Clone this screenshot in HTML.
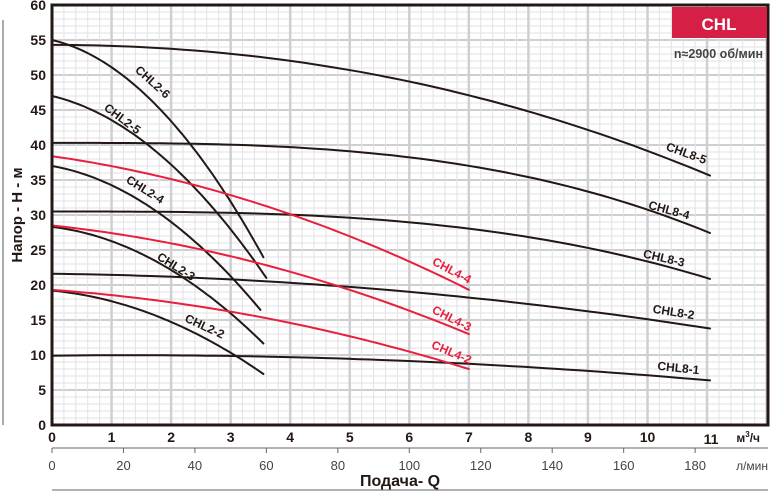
<!DOCTYPE html>
<html><head><meta charset="utf-8"><style>
html,body{margin:0;padding:0;background:#fff;}
svg{display:block;font-family:"Liberation Sans",sans-serif;}
</style></head><body>
<svg id="s" width="772" height="492" xmlns="http://www.w3.org/2000/svg">
<g id="grid"></g>
<g id="curves" fill="none" stroke-linecap="round"></g>
<rect x="52" y="5" width="716" height="420" fill="none" stroke="#231815" stroke-width="3"/>
<rect x="672" y="7" width="95" height="31" fill="#d51f44"/>
<text x="719" y="30" text-anchor="middle" font-size="17" font-weight="bold" fill="#fff">CHL</text>
<text x="763" y="58" text-anchor="end" font-size="12.5" font-weight="bold" fill="#444">n≈2900 об/мин</text>
<line x1="3" y1="20" x2="3" y2="425" stroke="#555" stroke-width="1"/>
<text transform="translate(22,215) rotate(-90)" text-anchor="middle" font-size="15" font-weight="bold" fill="#231815">Напор - Н - м</text>
<g id="ylab" font-size="14" font-weight="bold" fill="#231815" text-anchor="end"></g>
<g id="xlab" font-size="14" font-weight="bold" fill="#231815" text-anchor="middle"></g>
<text x="760" y="442" text-anchor="end" font-size="12" font-weight="bold" fill="#231815">м<tspan dy="-5" font-size="8">3</tspan><tspan dy="5">/ч</tspan></text>
<line x1="52" y1="448" x2="768" y2="448" stroke="#666" stroke-width="1"/>
<g id="llab" font-size="13" fill="#444" text-anchor="middle"></g>
<text x="768" y="470" text-anchor="end" font-size="12" fill="#444">л/мин</text>
<line x1="52" y1="490" x2="768" y2="490" stroke="#666" stroke-width="1"/>
<text x="400" y="486" text-anchor="middle" font-size="16" font-weight="bold" fill="#231815">Подача- Q</text>
<g id="labels" font-size="12" font-weight="bold"></g>
</svg>
<script>
var NS="http://www.w3.org/2000/svg";
function el(p,t,a,txt){var e=document.createElementNS(NS,t);for(var k in a)e.setAttribute(k,a[k]);if(txt!=null)e.textContent=txt;document.getElementById(p).appendChild(e);return e;}
var X0=52,SX=59.55,Y0=425,SY=7;
function px(x){return X0+x*SX;} function py(h){return Y0-h*SY;}
for(var i=1;i<60;i++){var y=py(i);el("grid","line",{x1:52,x2:768,y1:y,y2:y,stroke:i%5==0?"#cfcfd2":"#e2e2e4","stroke-width":i%5==0?2:1});}
for(var j=1;j<61;j++){var x=px(j*0.2);if(x>767)break;el("grid","line",{x1:x,x2:x,y1:5,y2:425,stroke:j%5==0?"#cfcfd2":"#e2e2e4","stroke-width":j%5==0?2.5:1});}
for(var i=0;i<=60;i+=5){el("ylab","text",{x:46,y:py(i)+5},String(i));}
for(var i=0;i<=11;i++){el("xlab","text",{x:px(i)+(i==11?4:0),y:i==11?444:442},String(i));}
for(var l=0;l<=180;l+=20){var x=X0+l/16.667*SX;el("llab","text",{x:x,y:470},String(l));el("grid","line",{x1:x,x2:x,y1:448,y2:453,stroke:"#666"});}
function curve(f,x1,col){var d="";for(var k=0;k<=60;k++){var x=x1*k/60;d+=(k?"L":"M")+px(x).toFixed(1)+","+py(f(x)).toFixed(1);}el("curves","path",{d:d,stroke:col,"stroke-width":2});}
function q(h0,a,b){return function(x){return h0-a*x-b*x*x;};}
function c(h0,a,b){return function(x){return h0-a*x*x-b*x*x*x;};}
var K="#231815",R="#e8203f";
curve(c(54.3,0.1365,0.00149),11.05,K);
curve(c(40.3,0,0.00954),11.05,K);
curve(c(30.5,0,0.00714),11.05,K);
curve(q(21.6,0.1,0.055),11.05,K);
curve(q(9.9,-0.1,0.038),11.05,K);
curve(q(55,2,1.9),3.55,K);
curve(q(47,2,1.45),3.6,K);
curve(q(37,1.5,1.25),3.5,K);
curve(q(28.3,1,1.04),3.55,K);
curve(q(19.2,0.8,0.72),3.55,K);
curve(q(38.4,1.2,0.218),7,R);
curve(q(28.5,0.9,0.188),7,R);
curve(q(19.3,0.6,0.145),7,R);
var L=[["CHL2-6",150,85,42,K],["CHL2-5",120,122,37,K],["CHL2-4",143,193,32,K],["CHL2-3",174,270,32,K],["CHL2-2",203,330,25,K],
["CHL4-4",450,274,28,R],["CHL4-3",450,322,27,R],["CHL4-2",450,356,23,R],
["CHL8-5",685,157,20,K],["CHL8-4",668,214,15,K],["CHL8-3",663,262,13,K],["CHL8-2",673,316,9,K],["CHL8-1",678,372,6,K]];
L.forEach(function(a){el("labels","text",{x:0,y:0,"text-anchor":"middle",fill:a[4],transform:"translate("+a[1]+","+a[2]+") rotate("+a[3]+")"},a[0]);});
</script>
</body></html>
